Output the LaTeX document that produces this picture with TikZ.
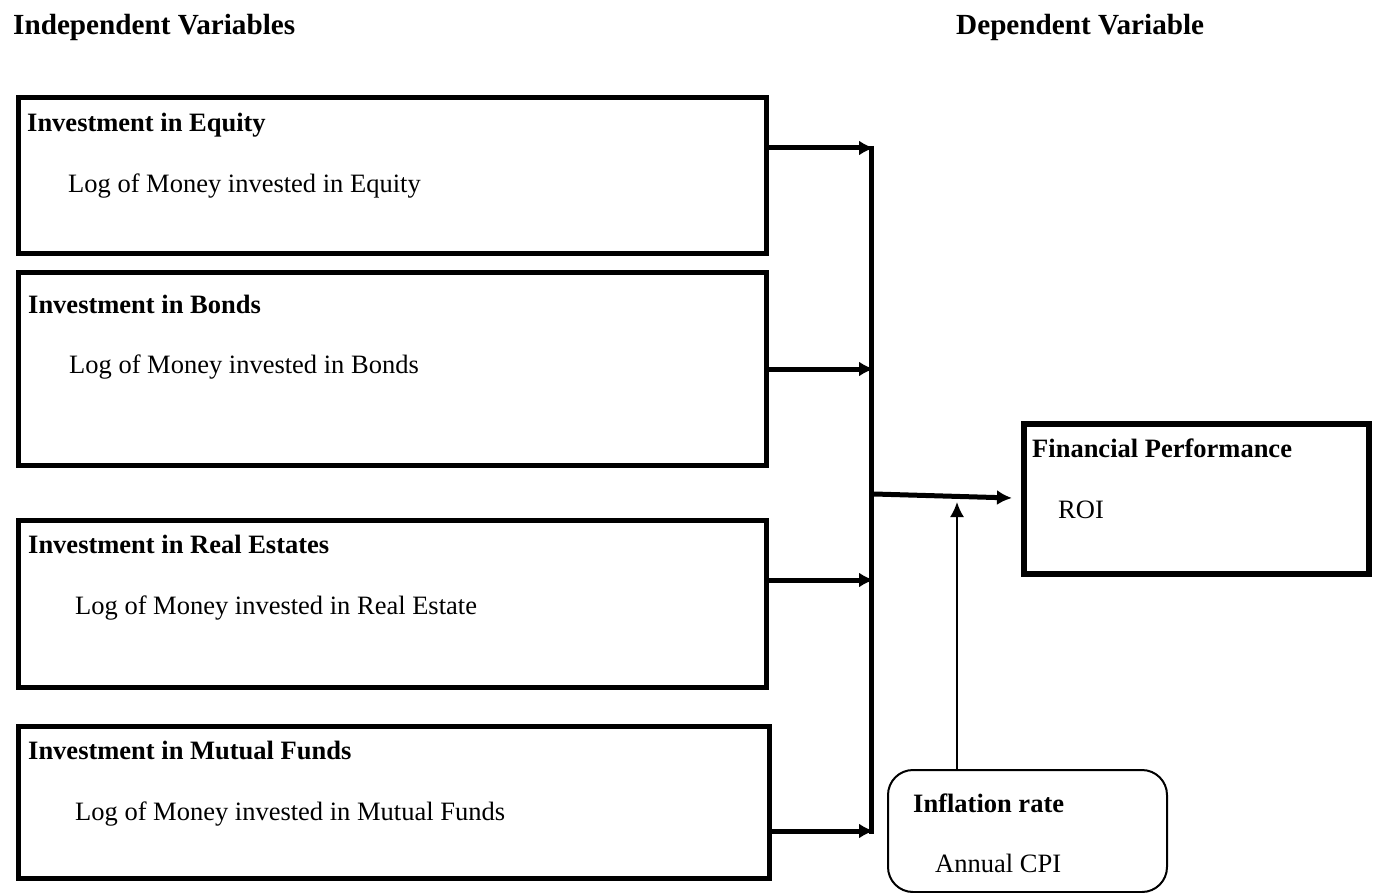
\documentclass[tikz,border=0pt]{standalone}
\usepackage{fontspec}
\setmainfont{Liberation Serif}
\usepackage{tikz}
\usetikzlibrary{arrows.meta}
\tikzstyle{varbox}=[draw,line width=5pt,rectangle,anchor=north west,inner sep=0pt]
\tikzstyle{outbox}=[draw,line width=6pt,rectangle,anchor=north west,inner sep=0pt]
\tikzstyle{modbox}=[draw,line width=2pt,rectangle,rounded corners=25pt,anchor=north west,inner sep=0pt]
\tikzstyle{boxtitle}=[anchor=base west,inner sep=0pt,font=\fontsize{26.5}{30}\selectfont\bfseries]
\tikzstyle{boxtext}=[anchor=base west,inner sep=0pt,font=\fontsize{26.5}{30}\selectfont]
\tikzstyle{heading}=[anchor=base west,inner sep=0pt,font=\fontsize{29.2}{33}\selectfont\bfseries]
\tikzstyle{feed}=[line width=5pt,-{Latex[length=15pt,width=15pt]}]
\tikzstyle{feedthin}=[line width=2pt,-{Latex[length=15pt,width=14pt]}]

\begin{document}
\begin{tikzpicture}[x=1pt,y=-1pt]
		\useasboundingbox (0,0) rectangle (1376,893);
		\node[heading] (indep) at (13,35) {Independent Variables};
		\node[heading] (dep) at (956,35) {Dependent Variable};
		\node[varbox,minimum width=748pt,minimum height=156pt] (eqbox) at (16,95) {};
		\node[varbox,minimum width=748pt,minimum height=193pt] (bdbox) at (16,270) {};
		\node[varbox,minimum width=748pt,minimum height=167pt] (rebox) at (16,518) {};
		\node[varbox,minimum width=751pt,minimum height=152pt] (mfbox) at (16,724) {};
		\node[outbox,minimum width=345pt,minimum height=150pt] (fpbox) at (1021,421) {};
		\node[modbox,minimum width=279pt,minimum height=122pt] (infbox) at (887,769) {};
		\node[boxtitle] (eqtitle) at (27,132) {Investment in Equity};
		\node[boxtext] (eqtext) at (68,193) {Log of Money invested in Equity};
		\node[boxtitle] (bdtitle) at (28,314) {Investment in Bonds};
		\node[boxtext] (bdtext) at (69,373) {Log of Money invested in Bonds};
		\node[boxtitle] (retitle) at (28,553) {Investment in Real Estates};
		\node[boxtext] (retext) at (75,614) {Log of Money invested in Real Estate};
		\node[boxtitle] (mftitle) at (28,759) {Investment in Mutual Funds};
		\node[boxtext] (mftext) at (75,820) {Log of Money invested in Mutual Funds};
		\node[boxtitle] (fptitle) at (1032,457) {Financial Performance};
		\node[boxtext] (fptext) at (1058,518) {ROI};
		\node[boxtitle] (inftitle) at (913,812) {Inflation rate};
		\node[boxtext] (inftext) at (935,872) {Annual CPI};
		\coordinate (j1) at (874,148);
		\coordinate (j2) at (874,369);
		\coordinate (j3) at (874,580);
		\coordinate (j4) at (874,831);
		\coordinate (bustop) at (871,146);
		\coordinate (busbot) at (871,834);
		\coordinate (jout) at (874,494);
		\coordinate (fpin) at (1012,498);
		\coordinate (infin) at (957,502);
		\draw[line width=5pt] (bustop) -- (busbot);
		\draw[feed] (eqbox.east |- j1) -- (j1);
		\draw[feed] (bdbox.east |- j2) -- (j2);
		\draw[feed] (rebox.east |- j3) -- (j3);
		\draw[feed] (mfbox.east |- j4) -- (j4);
		\draw[feed] (jout) -- (fpin);
		\draw[feedthin] (infbox.north -| infin) -- (infin);
	\end{tikzpicture}
\end{document}
